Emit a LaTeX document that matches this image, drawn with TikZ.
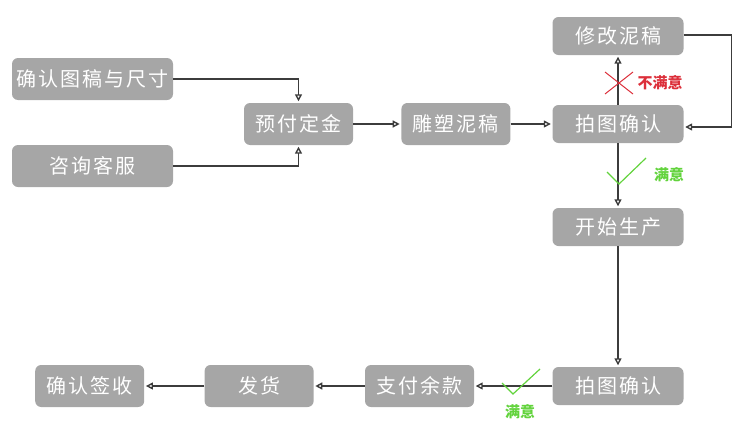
\documentclass[tikz,border=0pt]{standalone}
\usepackage{fontspec}
\setmainfont{Noto Sans CJK SC}
\newfontfamily\boxfont[LetterSpace=10]{Noto Sans CJK SC}
\usetikzlibrary{positioning,arrows.meta}
\definecolor{boxgray}{HTML}{A6A6A6}
\definecolor{linegray}{HTML}{3C3C3C}
\definecolor{nored}{HTML}{DC2F3A}
\definecolor{okgreen}{HTML}{62D33C}
\tikzset{
  box/.style={fill=boxgray,text=white,rounded corners=6pt,minimum width=109pt,minimum height=42pt,inner sep=0pt,font=\boxfont\fontsize{20}{20}\selectfont},
  wide/.style={box,minimum width=131pt,minimum height=38pt},
  arr/.style={-{Triangle[open,length=7pt,width=7pt]},draw=linegray,line width=1.4pt,shorten >=1.5pt},
  lbl/.style={font=\bfseries\fontsize{15}{15}\selectfont}
}

\begin{document}
\begin{tikzpicture}[x=1pt,y=-1pt,node distance=48pt]
\useasboundingbox (0,0) rectangle (750,442);
\node[box,minimum width=161pt] (confirm) at (92.5,79) {确认图稿与尺寸};
\node[box,minimum width=161pt] (service) at (92.5,166) {咨询客服};
\node[box] (deposit) at (298.5,124) {预付定金};
\node[box,right=48pt of deposit] (sculpt) {雕塑泥稿};
\node[wide] (photo) at (618,124) {拍图确认};
\node[wide] (modify) at (618,36) {修改泥稿};
\node[wide] (produce) at (618,227) {开始生产};
\node[wide] (photob) at (618,386) {拍图确认};
\node[box] (balance) at (419.5,386) {支付余款};
\node[box,left=51pt of balance] (ship) {发货};
\node[box,left=60pt of ship] (sign) {确认签收};

\draw[arr] (confirm.east) -| (deposit.north);
\draw[arr] (service.east) -| (deposit.south);
\draw[arr] (deposit) -- (sculpt);
\draw[arr] (sculpt) -- (photo);
\draw[arr] (photo) -- (modify);
\draw[arr] ([yshift=1pt]modify.east) -- ++(48,0) |- ([yshift=-3pt]photo.east);
\draw[arr] (photo) -- (produce);
\draw[arr] (produce) -- (photob);
\draw[arr] (photob) -- (balance);
\draw[arr] (balance) -- (ship);
\draw[arr] (ship) -- (sign);

% not satisfied
\draw[nored,line width=1pt] (605,72) -- (633,94) (605,94) -- (633,72);
\node[lbl,text=nored] (unsat) at (660,83) {不满意};
% satisfied
\draw[okgreen,line width=1.2pt] (607,172) -- (619,184) -- (646,158);
\node[lbl,text=okgreen] (sat) at (669,175) {满意};
\draw[okgreen,line width=1.2pt] (502,383) -- (513,394) -- (540,369);
\node[lbl,text=okgreen] (satb) at (520,412) {满意};
\end{tikzpicture}
\end{document}
